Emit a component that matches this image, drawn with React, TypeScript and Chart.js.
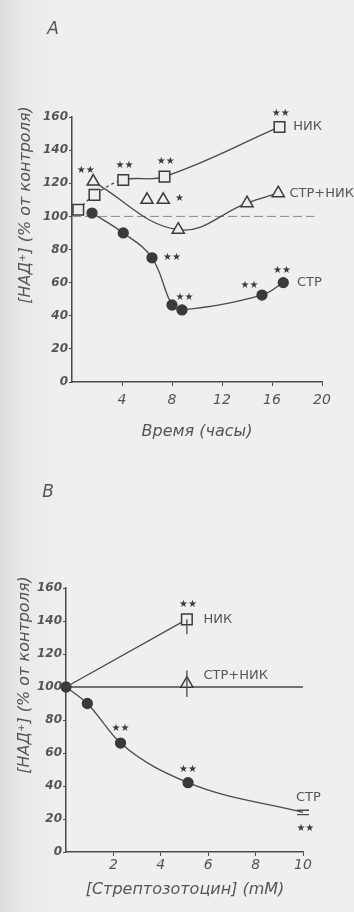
import React, { useEffect, useRef } from 'react';
import { Chart, registerables } from 'chart.js';
Chart.register(...registerables);

// ---------- Panel A: time course ----------
const hoursNik = [0.5, 1.8, 4.1, 7.4, 16.6];
const nadNik = [104, 113, 122, 124, 154];
const hoursStrNik = [1.7, 8.5, 14, 16.5];
const nadStrNik = [121, 92, 108, 114];
const hoursStrNikExtra = [6, 7.3];
const nadStrNikExtra = [110, 110];
const hoursStr = [1.6, 4.1, 6.4, 8, 8.8, 15.2, 16.9];
const nadStr = [102, 90, 75, 46.5, 43.5, 52.5, 60];
const controlHoursA = [0, 19.4];
const controlLevel = 100;
const xTicksA = [4, 8, 12, 16, 20];
const yTicks = [0, 20, 40, 60, 80, 100, 120, 140, 160];

// annotations in data units: [x, y, text]
const starsA: [number, number, string][] = [
  [1.1, 128, '★★'], [4.2, 131, '★★'], [7.5, 133, '★★'], [16.7, 162, '★★'],
  [8.6, 111, '★'], [8.0, 75, '★★'], [9.0, 51, '★★'], [14.2, 58.5, '★★'], [16.8, 67.5, '★★'],
];
const labelsA: [number, number, string][] = [
  [17.7, 154, 'НИК'], [17.4, 114, 'СТР+НИК'], [18.0, 60, 'СТР'],
];

// ---------- Panel B: dose response ----------
const concNik = [0, 5.1];
const nadNikB = [100, 141];
const errNikLowB = [0, 9];
const concStrNik = [5.1];
const nadStrNikB = [102];
const errStrNikB = [8];
const concStr = [0, 0.9, 2.3, 5.15, 10];
const nadStrB = [100, 90, 66, 42, 24];
const errStrB = [0, 0, 0, 0, 1.3];
const concControl = [0, 10];
const xTicksB = [2, 4, 6, 8, 10];

const starsB: [number, number, string][] = [
  [5.15, 150, '★★'], [2.3, 75, '★★'], [5.15, 50, '★★'], [10.1, 14.5, '★★'],
];
const labelsB: [number, number, string][] = [
  [5.8, 141, 'НИК'], [5.8, 107, 'СТР+НИК'], [9.7, 33, 'СТР'],
];

const BG = '#eeeeec';
const INK = '#3a3a3a';
const LINE = '#4a4a4a';
const TEXT = '#555555';
const FONT = 'DejaVu Sans';
const Y_TITLE = '[НАД⁺] (% от контроля)';

const pts = (xs: number[], ys: number[]) => xs.map((x, i) => ({ x, y: ys[i] }));

type Err = { x: number; y: number; lo: number; hi: number; cap: number; stem: boolean };

function makePlugin(o: {
  stars: [number, number, string][];
  labels: [number, number, string][];
  errors: Err[];
  letter: [string, number, number];
  yTitle: [number, number];
  xTitle: [string, number, number];
}) {
  return {
    id: 'annot',
    afterDatasetsDraw(chart: any) {
      const { ctx, scales } = chart;
      const sx = scales.x, sy = scales.y;
      ctx.save();
      ctx.strokeStyle = LINE;
      ctx.lineWidth = 1.3;
      for (const er of o.errors) {
        const px = sx.getPixelForValue(er.x);
        const p1 = sy.getPixelForValue(er.y - er.lo);
        const p2 = sy.getPixelForValue(er.y + er.hi);
        ctx.beginPath();
        if (er.stem) { ctx.moveTo(px, p1); ctx.lineTo(px, p2); }
        if (er.cap > 0) {
          ctx.moveTo(px - er.cap, p1); ctx.lineTo(px + er.cap, p1);
          ctx.moveTo(px - er.cap, p2); ctx.lineTo(px + er.cap, p2);
        }
        ctx.stroke();
      }
      ctx.fillStyle = INK;
      ctx.textBaseline = 'middle';
      ctx.textAlign = 'center';
      ctx.font = `10px ${FONT}`;
      for (const [x, y, t] of o.stars) {
        ctx.fillText(t, sx.getPixelForValue(x), sy.getPixelForValue(y));
      }
      ctx.fillStyle = TEXT;
      ctx.textAlign = 'left';
      ctx.font = `13px ${FONT}`;
      for (const [x, y, t] of o.labels) {
        ctx.fillText(t, sx.getPixelForValue(x), sy.getPixelForValue(y));
      }
      ctx.textAlign = 'center';
      ctx.font = `italic 17px ${FONT}`;
      ctx.fillText(o.letter[0], o.letter[1], o.letter[2]);
      ctx.font = `italic 16px ${FONT}`;
      ctx.fillText(o.xTitle[0], o.xTitle[1], o.xTitle[2]);
      ctx.save();
      ctx.translate(o.yTitle[0], o.yTitle[1]);
      ctx.rotate(-Math.PI / 2);
      ctx.fillText(Y_TITLE, 0, 0);
      ctx.restore();
      ctx.restore();
    },
  };
}

function axes(xMax: number, xTicks: number[], yW: number, xH: number, xPad: number) {
  return {
    x: {
      type: 'linear', min: 0, max: xMax,
      afterBuildTicks: (s: any) => { s.ticks = xTicks.map((v) => ({ value: v })); },
      afterFit: (s: any) => { s.height = xH; },
      grid: { display: true, drawOnChartArea: false, tickLength: 4, color: LINE },
      border: { color: LINE, width: 1.5 },
      ticks: { color: TEXT, padding: xPad, font: { family: FONT, size: 14, style: 'italic' } },
    },
    y: {
      type: 'linear', min: 0, max: 160,
      afterBuildTicks: (s: any) => { s.ticks = yTicks.map((v) => ({ value: v })); },
      afterFit: (s: any) => { s.width = yW; },
      grid: { display: true, drawOnChartArea: false, tickLength: 3, color: LINE },
      border: { color: LINE, width: 1.5 },
      ticks: { color: TEXT, padding: 1, font: { family: FONT, size: 12, style: 'italic', weight: 'bold' } },
    },
  };
}

const circle = { pointStyle: 'circle', pointRadius: 5, pointBackgroundColor: INK, pointBorderColor: INK };
const square = { pointStyle: 'rect', pointRadius: 7.5, pointBackgroundColor: BG, pointBorderColor: INK, pointBorderWidth: 1.5 };
const tri = { pointStyle: 'triangle', pointRadius: 7, pointBackgroundColor: BG, pointBorderColor: INK, pointBorderWidth: 1.5 };
const lineStyle = { borderColor: LINE, borderWidth: 1.3, showLine: true, clip: false };
const smooth = { ...lineStyle, tension: 0.4 };
const mono = { ...lineStyle, cubicInterpolationMode: 'monotone' };

function configA(): any {
  return {
    type: 'scatter',
    data: {
      datasets: [
        { ...smooth, ...square, data: pts(hoursNik, nadNik),
          segment: { borderDash: (c: any) => (c.p0DataIndex < 2 ? [3, 3] : undefined) } },
        { ...smooth, ...tri, data: pts(hoursStrNik, nadStrNik) },
        { ...tri, showLine: false, data: pts(hoursStrNikExtra, nadStrNikExtra) },
        { ...smooth, ...circle, data: pts(hoursStr, nadStr) },
        { showLine: true, borderColor: '#888', borderWidth: 1, borderDash: [9, 4], pointRadius: 0,
          data: controlHoursA.map((x) => ({ x, y: controlLevel })) },
      ],
    },
    options: {
      responsive: false, animation: false,
      layout: { padding: { top: 117, right: 32, left: 0, bottom: 0 } },
      plugins: { legend: { display: false }, tooltip: { enabled: false } },
      scales: axes(20, xTicksA, 72, 68, 6),
    },
    plugins: [makePlugin({
      stars: starsA, labels: labelsA, errors: [],
      letter: ['А', 53, 30], yTitle: [26, 205], xTitle: ['Время (часы)', 197, 432],
    })],
  };
}

function configB(): any {
  const errors: Err[] = [
    ...concNik.map((x, i) => ({ x, y: nadNikB[i], lo: errNikLowB[i], hi: 0, cap: 0, stem: true })).filter((d) => d.lo > 0),
    ...concStrNik.map((x, i) => ({ x, y: nadStrNikB[i], lo: errStrNikB[i], hi: errStrNikB[i], cap: 0, stem: true })),
    ...concStr.map((x, i) => ({ x, y: nadStrB[i], lo: errStrB[i], hi: errStrB[i], cap: 6, stem: false })).filter((d) => d.lo > 0),
  ];
  return {
    type: 'scatter',
    data: {
      datasets: [
        { ...lineStyle, ...square, data: pts(concNik, nadNikB), pointRadius: [0, 7.5] },
        { ...tri, showLine: false, data: pts(concStrNik, nadStrNikB) },
        { ...mono, ...circle, data: pts(concStr, nadStrB), pointRadius: [5, 5, 5, 5, 0] },
        { showLine: true, borderColor: LINE, borderWidth: 1.5, pointRadius: 0,
          data: concControl.map((x) => ({ x, y: controlLevel })) },
      ],
    },
    options: {
      responsive: false, animation: false,
      layout: { padding: { top: 128, right: 51, left: 0, bottom: 0 } },
      plugins: { legend: { display: false }, tooltip: { enabled: false } },
      scales: axes(10, xTicksB, 66, 60, 1),
    },
    plugins: [makePlugin({
      stars: starsB, labels: labelsB, errors,
      letter: ['B', 48, 33], yTitle: [25, 215], xTitle: ['[Стрептозотоцин] (mM)', 185, 430],
    })],
  };
}

function Panel({ top, height, make }: { top: number; height: number; make: () => any }) {
  const ref = useRef<HTMLCanvasElement>(null);
  useEffect(() => {
    const chart = new Chart(ref.current as HTMLCanvasElement, make());
    return () => chart.destroy();
  }, []);
  return (
    <div style={{ position: 'absolute', left: 0, top, width: 354, height }}>
      <canvas ref={ref} width={354} height={height} style={{ display: 'block' }} />
    </div>
  );
}

export default function App() {
  return (
    <div style={{ position: 'fixed', left: 0, top: 0, width: 354, height: 912, overflow: 'hidden',
      background: 'linear-gradient(to right, #dcdcda 0px, #e9e9e7 22px, #efefed 60px, #efefed 100%)' }}>
      <Panel top={0} height={450} make={configA} />
      <Panel top={460} height={452} make={configB} />
    </div>
  );
}
